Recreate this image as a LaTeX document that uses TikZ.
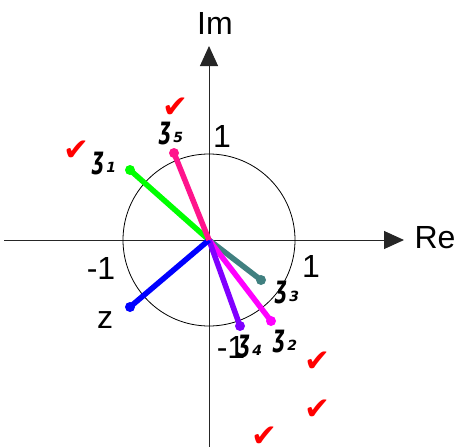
\documentclass[tikz,border=0pt]{standalone}
\usepackage{fontspec}
\setmainfont{Liberation Sans}
\newfontfamily\djv{DejaVu Sans}
\usetikzlibrary{arrows.meta}
\definecolor{zgreen}{RGB}{0,255,0}
\definecolor{zpink}{RGB}{255,20,140}
\definecolor{zteal}{RGB}{64,128,128}
\definecolor{zmag}{RGB}{255,0,255}
\definecolor{zpurple}{RGB}{128,0,255}
\definecolor{zblue}{RGB}{0,0,255}
\newcommand{\zlab}[1]{\scalebox{0.62}[1]{ʒ}\raisebox{-4pt}{\fontsize{14}{14}\selectfont\,#1}}
\begin{document}
\begin{tikzpicture}[x=1pt,y=-1pt,
  axis/.style={line width=1pt, draw=black!85, -{Triangle[length=20pt,width=18pt]}},
  vec/.style={line width=5.5pt},
  tip/.style={circle, inner sep=0pt, minimum size=10pt},
  big/.style={font=\fontsize{32}{32}\selectfont, inner sep=0pt},
  zl/.style={font=\djv\bfseries\itshape\fontsize{30}{30}\selectfont, inner sep=0pt},
  chk/.style={text=red, font=\djv\fontsize{31}{31}\selectfont, inner sep=0pt}]
\useasboundingbox (0,0) rectangle (466,447);
% axes
\coordinate (hl) at (4,240);
\coordinate (hr) at (404,240);
\coordinate (vb) at (209,447);
\coordinate (vt) at (209,46);
\draw[axis] (hl) -- (hr);
\draw[axis] (vb) -- (vt);
% unit circle
\node[circle, draw, line width=0.8pt, minimum size=172pt, inner sep=0pt] (C) at (209,240) {};
% vectors
\coordinate (O) at (209,240);
\node[tip, fill=zgreen] (E1) at (130,170) {};
\node[tip, fill=zpink] (E5) at (174,153) {};
\node[tip, fill=zteal] (E3) at (261,280) {};
\node[tip, fill=zmag] (E2) at (271,321) {};
\node[tip, fill=zpurple] (E4) at (240,326) {};
\node[tip, fill=zblue] (E) at (130,307) {};
\draw[vec, zgreen] (O) -- (E1.center);
\draw[vec, zteal] (O) -- (E3.center);
\draw[vec, zmag] (O) -- (E2.center);
\draw[vec, zpurple] (O) -- (E4.center);
\draw[vec, zblue] (O) -- (E.center);
\draw[vec, zpink] (O) -- (E5.center);
% axis labels
\node[big] (im) at (215,23) {Im};
\node[big] (re) at (435,238) {Re};
\node[big] (top1) at (222,136) {1};
\node[big] (left1) at (101,268) {-1};
\node[big] (right1) at (311,266) {1};
\node[big] (bot1) at (231,347) {-1};
\node[big] (zlab) at (105,320) {z};
% script labels
\node[zl] (l1) at (104,164) {\zlab{1}};
\node[zl] (l5) at (171,134) {\zlab{5}};
\node[zl] (l3) at (287,293) {\zlab{3}};
\node[zl] (l4) at (250,347) {\zlab{4}};
\node[zl] (l2) at (285,342) {\zlab{2}};
% check marks
\node[chk] (c1) at (76,151) {✔};
\node[chk] (c2) at (175,108) {✔};
\node[chk] (c3) at (317,362) {✔};
\node[chk] (c4) at (317,410) {✔};
\node[chk] (c5) at (264,437) {✔};
\end{tikzpicture}
\end{document}
